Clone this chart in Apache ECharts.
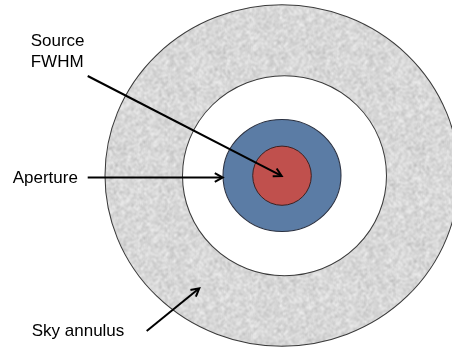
<!DOCTYPE html>
<html>
<head>
<meta charset="utf-8">
<script src="https://cdn.jsdelivr.net/npm/echarts@6/dist/echarts.min.js"></script>
<style>
html,body{margin:0;padding:0;background:#fff;}
#chart{width:452px;height:352px;}
</style>
</head>
<body>
<div id="chart"></div>
<script>
// Diagram regions (in diagram units on hidden value axes)
const ringNames   = ['Sky annulus outer', 'Sky annulus inner', 'Aperture', 'Source FWHM'];
const ringCenterX = [282, 284.5, 282, 282];
const ringCenterY = [175.5, 175.7, 175.5, 175.7];
const ringRadiusX = [177, 102, 59, 29.3];
const ringRadiusY = [170.7, 100, 56, 29.6];

// Arrows: start and tip points
const arrowFromX = [87.7, 87.7, 146.7];
const arrowFromY = [76, 177.5, 331];
const arrowToX   = [281.7, 222.7, 199.3];
const arrowToY   = [176, 177.5, 288.3];

// Labels
const labelTexts = ['Source', 'FWHM', 'Aperture', 'Sky annulus'];
const labelX = [30.7, 30.7, 12.7, 31.7];
const labelY = [41, 62.7, 178.3, 331.3];

// deterministic grain texture for the sky annulus
function makeNoise() {
  const c = document.createElement('canvas');
  c.width = 96; c.height = 96;
  const ctx = c.getContext('2d');
  const img = ctx.createImageData(96, 96);
  let s = 12345;
  function rnd() { s = (s * 1103515245 + 12345) & 0x7fffffff; return s / 0x7fffffff; }
  const raw = new Float32Array(96 * 96);
  for (let i = 0; i < raw.length; i++) raw[i] = rnd();
  for (let y = 0; y < 96; y++) {
    for (let x = 0; x < 96; x++) {
      let sum = 0, n = 0;
      for (let dy = -1; dy <= 1; dy++) for (let dx = -1; dx <= 1; dx++) {
        const xx = (x + dx + 96) % 96, yy = (y + dy + 96) % 96;
        const w = (dx === 0 && dy === 0) ? 2 : 1;
        sum += raw[yy * 96 + xx] * w; n += w;
      }
      const v = Math.round(216 + (sum / n - 0.5) * 70);
      const k = (y * 96 + x) * 4;
      img.data[k] = v; img.data[k + 1] = v; img.data[k + 2] = v; img.data[k + 3] = 255;
    }
  }
  ctx.putImageData(img, 0, 0);
  return c;
}
const noise = makeNoise();

const ringFills = [{ image: noise, repeat: 'repeat' }, '#ffffff', '#5b7ca5', '#c0504d'];
const ringStrokes = ['#3a3a3a', '#3a3a3a', '#2a3040', '#3a2020'];

const ringData = ringNames.map((n, i) => [ringCenterX[i], ringCenterY[i], ringRadiusX[i], ringRadiusY[i], i]);
const arrowData = arrowFromX.map((v, i) => [arrowFromX[i], arrowFromY[i], arrowToX[i], arrowToY[i]]);
const labelData = labelTexts.map((t, i) => [labelX[i], labelY[i], t]);

const chart = echarts.init(document.getElementById('chart'), null, { renderer: 'canvas' });
chart.setOption({
  animation: false,
  backgroundColor: '#ffffff',
  grid: { left: 0, right: 0, top: 0, bottom: 0 },
  xAxis: { type: 'value', min: 0, max: 452, show: false },
  yAxis: { type: 'value', min: 0, max: 352, inverse: true, show: false },
  series: [
    {
      type: 'custom',
      coordinateSystem: 'cartesian2d',
      clip: false,
      data: ringData,
      renderItem: function (params, api) {
        const c = api.coord([api.value(0), api.value(1)]);
        const sz = api.size([api.value(2), api.value(3)]);
        const i = api.value(4);
        const rx = sz[0], ry = sz[1];
        return {
          type: 'circle',
          x: c[0], y: c[1],
          scaleX: rx / ry,
          shape: { cx: 0, cy: 0, r: ry },
          style: { fill: ringFills[i], stroke: ringStrokes[i], lineWidth: 1, strokeNoScale: true }
        };
      },
      z: 1
    },
    {
      type: 'custom',
      coordinateSystem: 'cartesian2d',
      data: arrowData,
      renderItem: function (params, api) {
        const a = api.coord([api.value(0), api.value(1)]);
        const b = api.coord([api.value(2), api.value(3)]);
        const ang = Math.atan2(b[1] - a[1], b[0] - a[0]);
        const L = 9, spread = 0.5;
        const p1 = [b[0] - L * Math.cos(ang - spread), b[1] - L * Math.sin(ang - spread)];
        const p2 = [b[0] - L * Math.cos(ang + spread), b[1] - L * Math.sin(ang + spread)];
        return {
          type: 'group',
          children: [
            { type: 'line', shape: { x1: a[0], y1: a[1], x2: b[0] - 1.2 * Math.cos(ang), y2: b[1] - 1.2 * Math.sin(ang) },
              style: { stroke: '#000', lineWidth: 2 } },
            { type: 'polyline', shape: { points: [p1, b, p2] },
              style: { stroke: '#000', lineWidth: 2, fill: null, lineJoin: 'miter' } }
          ]
        };
      },
      z: 3
    },
    {
      type: 'custom',
      coordinateSystem: 'cartesian2d',
      data: labelData,
      renderItem: function (params, api) {
        const p = api.coord([api.value(0), api.value(1)]);
        return {
          type: 'text',
          x: p[0], y: p[1],
          style: {
            text: labelTexts[params.dataIndex],
            fill: '#000',
            font: '17px "Liberation Sans", Arial, sans-serif',
            textAlign: 'left',
            textVerticalAlign: 'middle'
          }
        };
      },
      z: 4
    }
  ]
});
</script>
</body>
</html>
